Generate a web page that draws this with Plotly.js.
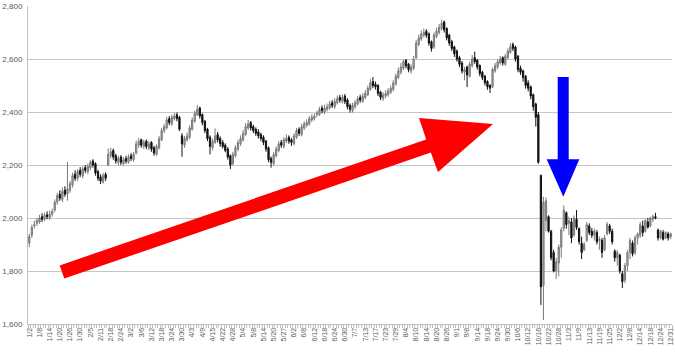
<!DOCTYPE html>
<html>
<head>
<meta charset="utf-8">
<script src="https://cdn.plot.ly/plotly-3.0.1.min.js"></script>
<style>html,body{margin:0;padding:0;background:#fff;}#chart{width:675px;height:356px;}</style>
</head>
<body>
<div id="chart"></div>
<script>
const tickLabels = ["1/2","1/8","1/14","1/20","1/26","1/30","2/5","2/11","2/18","2/24","3/2","3/6","3/12","3/18","3/24","3/30","4/3","4/9","4/15","4/22","4/28","5/4","5/8","5/14","5/20","5/27","6/2","6/8","6/12","6/18","6/24","6/30","7/7","7/13","7/17","7/23","7/29","8/4","8/10","8/14","8/20","8/26","9/1","9/8","9/14","9/18","9/24","9/30","10/6","10/12","10/16","10/22","10/28","11/3","11/9","11/13","11/19","11/25","12/2","12/8","12/14","12/18","12/24","12/31"];

const openVals = [1905,1935,1970,1980, 1985,2005,1995,2012, 2000,2015,2030,2060, 2090,2070,2105,2090, 2105,2125,2165,2150, 2180,2160,2190,2175, 2190,2215,2205,2175, 2155,2135,2165,2200, 2235,2255,2235,2210, 2230,2205,2225,2210, 2235,2220,2245,2275, 2295,2270,2290,2265, 2285,2265,2240,2265, 2295,2330,2340,2375, 2355,2375,2390,2380, 2310,2275,2295,2305, 2335,2365,2390,2415, 2390,2365,2335,2305, 2265,2285,2315,2300, 2285,2275,2260,2235, 2205,2235,2260,2280, 2295,2315,2340,2360, 2345,2335,2325,2315, 2305,2290,2265,2225, 2205,2235,2255,2285, 2270,2290,2305,2295, 2280,2305,2335,2315, 2340,2350,2355,2370, 2375,2390,2390,2415, 2400,2410,2415,2435, 2420,2435,2455,2440, 2460,2445,2425,2405, 2420,2430,2455,2440, 2455,2465,2485,2515, 2505,2500,2475,2450, 2460,2465,2475,2485, 2505,2530,2550,2565, 2595,2580,2555,2565, 2605,2655,2675,2690, 2705,2695,2665,2645, 2685,2700,2715,2740, 2715,2690,2665,2645, 2630,2605,2585,2550, 2570,2535,2575,2605, 2595,2575,2550,2535, 2515,2500,2495,2555, 2570,2585,2605,2580, 2605,2625,2655,2645, 2610,2565,2555,2535, 2510,2495,2465,2430,
 2390,2160,1745,1990, 2005,1950,1870,1800, 1830,1890,1960,2020, 1980,1985,1935,1995, 1960,1905,1880,1915, 1970,1950,1935,1945, 1915,1915,1880,1940, 1970,1950,1875,1850, 1860,1790,1765,1820, 1870,1905,1870,1925, 1935,1970,1950,1985, 1970,1995,2005,1955, 1925,1945,1925,1940, 1930];

const highVals = [1940,1975,1990,2000, 2012,2018,2020,2025, 2028,2035,2070,2095, 2105,2115,2120,2212, 2140,2170,2180,2185, 2192,2195,2200,2205, 2218,2222,2210,2182, 2165,2170,2172,2262, 2265,2262,2242,2235, 2238,2230,2235,2240, 2245,2250,2292,2302, 2300,2295,2296,2290, 2290,2272,2278,2310, 2340,2355,2382,2385, 2390,2396,2398,2385, 2320,2310,2322,2350, 2380,2405,2426,2420, 2395,2370,2340,2312, 2300,2338,2325,2308, 2294,2282,2268,2240, 2250,2275,2295,2312, 2332,2358,2370,2366, 2352,2342,2335,2322, 2312,2295,2270,2232, 2250,2270,2290,2295, 2305,2315,2312,2302, 2320,2340,2342,2355, 2365,2372,2385,2392, 2395,2405,2420,2425, 2428,2432,2442,2445, 2452,2462,2465,2466, 2468,2452,2432,2435, 2445,2460,2465,2472, 2482,2500,2525,2532, 2515,2505,2480,2475, 2482,2490,2500,2520, 2545,2568,2585,2598, 2600,2585,2580,2612, 2672,2692,2708,2715, 2712,2700,2670,2700, 2718,2732,2748,2745, 2720,2695,2672,2650, 2636,2612,2592,2570, 2575,2590,2615,2628, 2600,2580,2556,2540, 2520,2505,2568,2585, 2600,2612,2610,2620, 2640,2660,2662,2650, 2615,2575,2560,2540, 2520,2500,2470,2435,
 2400,2165,2080,2078, 2010,1955,1880,1850, 1900,1965,2048,2025, 2005,2000,2010,2030, 1965,1930,1910,1985, 1980,1962,1960,1955, 1930,1925,1935,1985, 1978,1960,1882,1880, 1865,1800,1830,1880, 1925,1915,1935,1945, 1985,1990,1995,2000, 2005,2012,2020,1960, 1955,1955,1950,1948, 1945];

const lowVals = [1890,1925,1960,1970, 1978,1985,1988,1995, 1992,2005,2022,2050, 2065,2060,2080,2065, 2095,2115,2140,2140, 2155,2150,2170,2165, 2180,2190,2160,2140, 2128,2130,2140,2195, 2225,2220,2205,2200, 2200,2198,2205,2205, 2215,2212,2240,2265, 2265,2260,2260,2255, 2250,2235,2235,2258, 2290,2320,2335,2350, 2348,2368,2365,2328, 2231,2265,2288,2298, 2330,2360,2385,2375, 2350,2320,2290,2240, 2255,2280,2285,2268, 2262,2248,2220,2185, 2198,2228,2252,2272, 2288,2310,2332,2330, 2320,2310,2300,2290, 2275,2250,2210,2190, 2198,2228,2248,2265, 2262,2282,2280,2272, 2275,2298,2310,2308, 2332,2342,2348,2362, 2368,2380,2385,2395, 2392,2402,2408,2415, 2412,2428,2435,2432, 2430,2410,2398,2398, 2412,2425,2435,2435, 2448,2460,2480,2490, 2485,2460,2445,2442, 2452,2458,2468,2478, 2500,2525,2542,2558, 2565,2550,2545,2558, 2600,2648,2668,2682, 2680,2650,2628,2638, 2678,2692,2708,2700, 2670,2650,2630,2608, 2590,2570,2545,2520, 2494,2530,2568,2582, 2560,2535,2520,2500, 2484,2472,2490,2548, 2562,2578,2575,2575, 2598,2620,2630,2590, 2550,2540,2515,2488, 2478,2448,2405,2345,
 2205,1672,1615,1950, 1945,1840,1795,1770, 1780,1850,1950,1960, 1935,1905,1930,1955, 1900,1845,1875,1910, 1935,1925,1915,1900, 1880,1850,1875,1935, 1940,1900,1835,1820, 1790,1736,1755,1800, 1845,1855,1860,1900, 1925,1930,1945,1960, 1965,1985,1995,1915, 1920,1915,1920,1915, 1920];

const closeVals = [1930,1965,1975,1990, 2000,1995,2010,2005, 2015,2025,2060,2085, 2075,2100,2090,2110, 2130,2160,2150,2175, 2165,2185,2180,2195, 2210,2200,2170,2150, 2140,2160,2150,2240, 2250,2230,2215,2225, 2210,2220,2215,2230, 2225,2240,2280,2290, 2275,2285,2270,2280, 2260,2245,2270,2300, 2330,2345,2370,2360, 2380,2385,2375,2335, 2280,2300,2310,2340, 2370,2395,2410,2385, 2360,2330,2300,2270, 2290,2310,2295,2280, 2270,2255,2230,2200, 2240,2265,2285,2300, 2320,2345,2355,2340, 2330,2320,2310,2300, 2285,2260,2220,2210, 2240,2260,2280,2275, 2295,2300,2290,2285, 2310,2330,2320,2345, 2355,2360,2375,2380, 2385,2395,2410,2405, 2415,2420,2430,2425, 2440,2450,2445,2455, 2440,2420,2410,2425, 2435,2450,2445,2460, 2470,2490,2510,2500, 2495,2470,2455,2465, 2470,2480,2490,2510, 2535,2555,2570,2590, 2575,2560,2570,2600, 2660,2680,2695,2700, 2690,2660,2640,2690, 2705,2720,2735,2710, 2680,2660,2640,2620, 2600,2580,2555,2560, 2540,2580,2600,2590, 2570,2545,2530,2510, 2495,2490,2560,2575, 2590,2600,2585,2610, 2630,2645,2640,2600, 2560,2550,2530,2500, 2490,2460,2420,2380,
 2210,1740,2060,2065, 1950,1850,1800,1835, 1890,1955,2030,1975, 1990,1925,2000,1965, 1910,1870,1900,1975, 1945,1935,1950,1910, 1920,1870,1925,1975, 1950,1910,1850,1870, 1800,1760,1820,1870, 1915,1865,1925,1940, 1975,1945,1990,1965, 2000,2005,2000,1925, 1950,1920,1945,1925, 1940];

// Decorative arrows, in pixel coordinates of the 675x356 picture
const redArrowPx = [[59.7,265.4],[426.2,139.4],[419,118],[493,124],[438,172],[430.8,152.6],[64.3,278.6]];
const blueArrowPx = [[557.7,77],[568.7,77],[568.7,159.3],[579.3,159.3],[563.3,196.7],[546.7,159.3],[557.7,159.3]];

const M = {l:28, r:3, t:6, b:32};
const W = 675, H = 356;
const pw = W - M.l - M.r, ph = H - M.t - M.b;
function pathFrom(pts){
  return pts.map((p,i)=>(i?'L':'M')+((p[0]-M.l)/pw).toFixed(5)+','+((H-M.b-p[1])/ph).toFixed(5)).join(' ')+' Z';
}

const xIdx = closeVals.map((_, i) => i);
const tickPos = tickLabels.map((_, i) => i * 4);

const trace = {
  type: 'candlestick',
  x: xIdx, open: openVals, high: highVals, low: lowVals, close: closeVals,
  increasing: {line: {color: '#7a7a7a', width: 1}, fillcolor: '#a6a6a6'},
  decreasing: {line: {color: '#111111', width: 1}, fillcolor: '#111111'},
  whiskerwidth: 0,
  hoverinfo: 'skip'
};

const layout = {
  width: W, height: H,
  margin: M,
  paper_bgcolor: '#ffffff', plot_bgcolor: '#ffffff',
  showlegend: false,
  font: {family: 'Liberation Sans, Arial, sans-serif', color: '#595959'},
  xaxis: {
    range: [-0.5, closeVals.length - 0.5],
    tickmode: 'array', tickvals: tickPos, ticktext: tickLabels,
    tickangle: -90, tickfont: {size: 7, color: '#595959'},
    ticks: '', showgrid: false, zeroline: false,
    showline: true, linecolor: '#bfbfbf', linewidth: 1,
    minor: {tickmode: 'linear', tick0: 0.5, dtick: 1, ticks: 'outside', ticklen: 3, tickcolor: '#bfbfbf', tickwidth: 1, showgrid: false},
    rangeslider: {visible: false},
    fixedrange: true, automargin: false
  },
  yaxis: {
    range: [1600, 2800], dtick: 200, tickformat: ',d',
    tickfont: {size: 8, color: '#595959'},
    showgrid: true, gridcolor: '#c6c6c6', gridwidth: 1,
    zeroline: false, showline: true, linecolor: '#bfbfbf', linewidth: 1,
    ticks: '', ticklabelstandoff: 3, automargin: false, fixedrange: true
  },
  shapes: [
    {type: 'path', xref: 'paper', yref: 'paper', path: pathFrom(redArrowPx), fillcolor: '#ff0000', line: {width: 0}, layer: 'above'},
    {type: 'path', xref: 'paper', yref: 'paper', path: pathFrom(blueArrowPx), fillcolor: '#0000ff', line: {width: 0}, layer: 'above'}
  ]
};

Plotly.newPlot('chart', [trace], layout, {staticPlot: true, displayModeBar: false});
</script>
</body>
</html>
